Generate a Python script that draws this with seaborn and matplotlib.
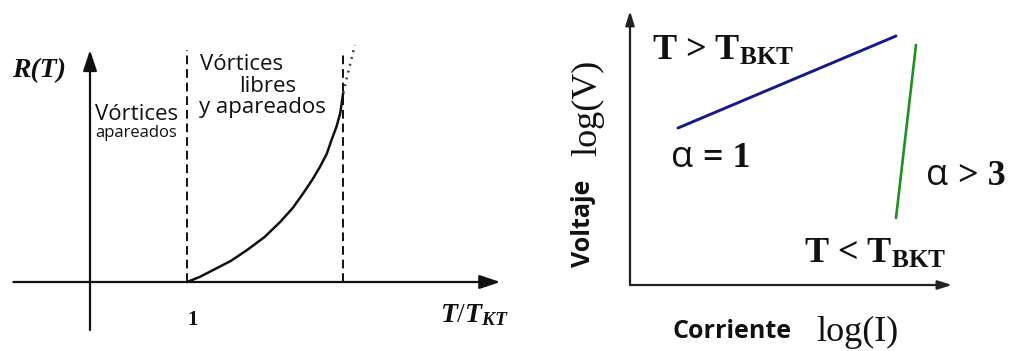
import matplotlib
matplotlib.use('Agg')
import matplotlib.pyplot as plt
import seaborn as sns

# left panel: R(T) curve (T/T_KT, R in arbitrary units)
t_curve = [1.00, 1.13, 1.27, 1.45, 1.62, 1.80, 1.96, 2.09, 2.20, 2.29, 2.37, 2.44, 2.49,
           2.54, 2.58, 2.61]
r_curve = [0.00, 0.05, 0.12, 0.21, 0.32, 0.45, 0.60, 0.74, 0.89, 1.02, 1.15, 1.28, 1.42,
           1.55, 1.69, 1.89]
t_dotted = [2.61, 2.67, 2.73]
r_dotted = [1.89, 2.13, 2.37]
dashed_x = [1.0, 2.61]
dashed_top = [2.32, 2.27]

# right panel: log(V) vs log(I)
logi_hot = [0.48, 2.66]
logv_hot = [1.57, 2.49]
logi_cold = [2.66, 2.86]
logv_cold = [0.67, 2.40]

sns.set_theme(style='white')
plt.rcParams['mathtext.fontset'] = 'custom'
plt.rcParams['mathtext.rm'] = 'Liberation Serif'
plt.rcParams['mathtext.it'] = 'Liberation Serif:italic:bold'
plt.rcParams['mathtext.bf'] = 'Liberation Serif:bold'

W, H = 1010, 351
fig = plt.figure(figsize=(W / 100, H / 100), dpi=100)

def px(x, y):
    return x / W, 1 - y / H

ink = '#111111'

# ---- left panel ----
ax1 = fig.add_axes([0, 0, 505 / W, 1])
ax1.set_xlim(-90 / 97, 415 / 97)
ax1.set_ylim(-0.69, 2.82)
ax1.set_axis_off()

sns.lineplot(x=t_curve, y=r_curve, ax=ax1, color=ink, lw=1.8, sort=False)
sns.lineplot(x=t_dotted, y=r_dotted, ax=ax1, color='#444444', lw=1.8,
             linestyle=(0, (0.8, 2.0)), sort=False)
ax1.vlines(dashed_x, 0, dashed_top, colors=ink, lw=1.4, linestyles=(0, (4.5, 2.5)))

arrow_l = dict(arrowstyle='-|>,head_length=0.9,head_width=0.3', color=ink, lw=1.6,
               shrinkA=0, shrinkB=0, mutation_scale=14)
ax1.annotate('', xy=(4.23, 0), xytext=(-0.79, 0), arrowprops=arrow_l)
ax1.annotate('', xy=(0, 2.32), xytext=(0, -0.48), arrowprops=arrow_l)

serif = 'Liberation Serif'
sans = 'Open Sans'
fig.text(*px(12, 71), 'R(T)', family=serif, weight='bold', style='italic',
         fontsize=20, color=ink, va='center', ha='left')
fig.text(*px(440, 322), r'$T/T_{KT}$', fontsize=20, color=ink, va='baseline', ha='left')
fig.text(*px(193, 320), '1', family=serif, weight='bold', fontsize=15, color=ink,
         va='center', ha='center')
fig.text(*px(95, 120), 'Vórtices', family=sans, fontsize=16, color=ink, va='baseline')
fig.text(*px(95, 137), 'apareados', family=sans, fontsize=12, color=ink, va='baseline')
fig.text(*px(200, 70), 'Vórtices', family=sans, fontsize=16, color=ink, va='baseline')
fig.text(*px(239, 92), 'libres', family=sans, fontsize=16, color=ink, va='baseline')
fig.text(*px(199, 113), 'y apareados', family=sans, fontsize=16, color=ink, va='baseline')

# ---- right panel ----
ax2 = fig.add_axes([520 / W, 0, 490 / W, 1])
ax2.set_xlim(-1.1, 3.8)
ax2.set_ylim(-0.66, 2.85)
ax2.set_axis_off()

sns.lineplot(x=logi_hot, y=logv_hot, ax=ax2, color='#121a8c', lw=2.1, sort=False)
sns.lineplot(x=logi_cold, y=logv_cold, ax=ax2, color='#1f8f1f', lw=1.9, sort=False)

arrow_r = dict(arrowstyle='-|>,head_length=0.7,head_width=0.22', color='#222222', lw=1.6,
               shrinkA=0, shrinkB=0, mutation_scale=12)
ax2.annotate('', xy=(3.22, 0), xytext=(0, 0), arrowprops=arrow_r)
ax2.annotate('', xy=(0, 2.74), xytext=(0, 0), arrowprops=arrow_r)

fig.text(*px(652, 60), r'$\mathbf{T}$ > $\mathbf{T_{BKT}}$', family=serif, weight='bold',
         fontsize=26, color=ink, va='baseline')
fig.text(*px(671, 167), 'α', family=sans, fontsize=26, color=ink, va='baseline')
fig.text(*px(703, 167), '= 1', family=serif, weight='bold', fontsize=26, color=ink,
         va='baseline')
fig.text(*px(926, 185), 'α', family=sans, fontsize=26, color=ink, va='baseline')
fig.text(*px(958, 185), '> 3', family=serif, weight='bold', fontsize=26, color=ink,
         va='baseline')
fig.text(*px(804, 263), r'$\mathbf{T}$ < $\mathbf{T_{BKT}}$', family=serif, weight='bold',
         fontsize=26, color=ink, va='baseline')
fig.text(*px(584, 223), 'Voltaje', family=sans, weight='bold', fontsize=18, color=ink,
         rotation=90, ha='center', va='center')
fig.text(*px(588, 108), 'log(V)', family=serif, fontsize=26, color=ink,
         rotation=90, ha='center', va='center')
fig.text(*px(732, 331), 'Corriente', family=sans, weight='bold', fontsize=18, color=ink,
         ha='center', va='center')
fig.text(*px(857, 332), 'log(I)', family=serif, fontsize=26, color=ink,
         ha='center', va='center')

fig.savefig('out.png', dpi=100)
